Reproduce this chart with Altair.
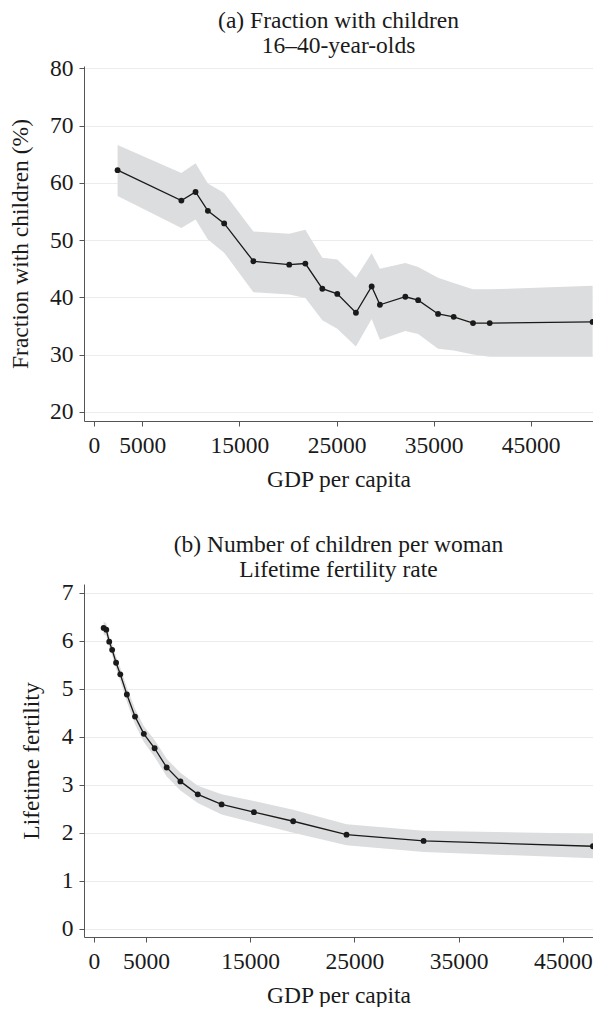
import altair as alt
import pandas as pd

# Panel (a): fraction with children, 16-40-year-olds
a_gdp = [2450, 9020, 10480, 11750, 13430, 16440, 20130, 21790, 23540, 25080,
         27000, 28620, 29470, 32090, 33410, 35460, 37070, 39060, 40780, 51380]
a_frac = [62.2, 56.9, 58.4, 55.1, 52.9, 46.3, 45.7, 45.9, 41.5, 40.6,
          37.3, 41.9, 38.7, 40.1, 39.5, 37.1, 36.6, 35.5, 35.5, 35.7]
a_upper = [66.6, 61.7, 63.4, 59.9, 58.2, 51.5, 51.1, 51.8, 46.9, 46.6,
           43.4, 47.7, 45.0, 46.0, 45.3, 43.4, 42.5, 41.4, 41.4, 42.0]
a_lower = [57.7, 52.1, 53.6, 50.1, 47.8, 40.9, 40.5, 39.9, 36.0, 34.5,
           31.4, 36.2, 32.6, 34.1, 33.6, 31.0, 30.7, 30.0, 29.6, 29.6]

# Panel (b): lifetime fertility rate
b_gdp = [940, 1195, 1477, 1759, 2135, 2540, 3170, 3951, 4798, 5833,
         6990, 8307, 9972, 12258, 15362, 19125, 24243, 31637, 47883]
b_fert = [6.265, 6.23, 5.98, 5.81, 5.54, 5.30, 4.88, 4.42, 4.06, 3.76,
          3.36, 3.07, 2.80, 2.59, 2.43, 2.24, 1.96, 1.83, 1.72]
b_upper = [6.40, 6.36, 6.10, 5.93, 5.67, 5.44, 5.03, 4.58, 4.22, 3.93,
           3.54, 3.25, 2.98, 2.80, 2.66, 2.48, 2.18, 2.04, 1.98]
b_lower = [6.13, 6.10, 5.86, 5.69, 5.41, 5.16, 4.73, 4.26, 3.89, 3.58,
           3.17, 2.88, 2.62, 2.38, 2.21, 2.00, 1.74, 1.60, 1.47]

x_ticks = [0, 5000, 15000, 25000, 35000, 45000]
a_yticks = [20, 30, 40, 50, 60, 70, 80]
b_yticks = [0, 1, 2, 3, 4, 5, 6, 7]

FONT = "Liberation Serif"
FS = 23.5
INK = "#1a1a1a"
BAND = "#dcdddf"
PLOT_W = 509


def panel(gdp, val, lo, hi, title_lines, ytitle, ydomain, yticks, xdomain,
          height, ytitle_pad):
    df = pd.DataFrame({"gdp": gdp, "val": val, "lo": lo, "hi": hi})
    xenc = alt.X(
        "gdp:Q",
        scale=alt.Scale(domain=xdomain, nice=False, zero=False),
        axis=alt.Axis(values=x_ticks, format="d", title="GDP per capita",
                      grid=False, labelPadding=7, titlePadding=11),
    )
    yscale = alt.Scale(domain=ydomain, nice=False, zero=False)
    yaxis = alt.Axis(values=yticks, title=ytitle, grid=True,
                     labelPadding=6, titlePadding=ytitle_pad)
    base = alt.Chart(df)
    band = base.mark_area(color=BAND, opacity=1, clip=True).encode(
        x=xenc, y=alt.Y("lo:Q", scale=yscale, axis=yaxis), y2="hi:Q")
    line = base.mark_line(color=INK, strokeWidth=1.3, clip=True).encode(
        x=xenc, y=alt.Y("val:Q", scale=yscale, axis=yaxis))
    pts = base.mark_circle(color=INK, size=34, opacity=1, clip=True).encode(
        x=xenc, y=alt.Y("val:Q", scale=yscale, axis=yaxis))
    return alt.layer(band, line, pts).properties(
        width=PLOT_W, height=height,
        title=alt.TitleParams(text=title_lines, font=FONT, fontSize=FS,
                              fontWeight="normal", color=INK, anchor="middle",
                              frame="group", lineHeight=25, offset=-1),
    )


pa = panel(a_gdp, a_frac, a_lower, a_upper,
           ["(a) Fraction with children", "16\u201340-year-olds"],
           "Fraction with children (%)", [18.4, 80.4], a_yticks,
           [-1010, 51420], 355, 17)
pb = panel(b_gdp, b_fert, b_lower, b_upper,
           ["(b) Number of children per woman", "Lifetime fertility rate"],
           "Lifetime fertility", [-0.17, 7.18], b_yticks,
           [-943, 47890], 353, 18)

chart = alt.vconcat(pa, pb, spacing=42).properties(
    padding={"left": 0, "top": 0, "right": 0, "bottom": 0}
).configure_view(stroke=None).configure_axis(
    labelFont=FONT, labelFontSize=FS, labelColor=INK,
    titleFont=FONT, titleFontSize=FS, titleFontWeight="normal", titleColor=INK,
    domainColor="#555555", tickColor="#555555", tickSize=5,
    gridColor="#ececec", gridWidth=1,
)

chart.save("out.html", embed_options={"renderer": "svg", "actions": False})
